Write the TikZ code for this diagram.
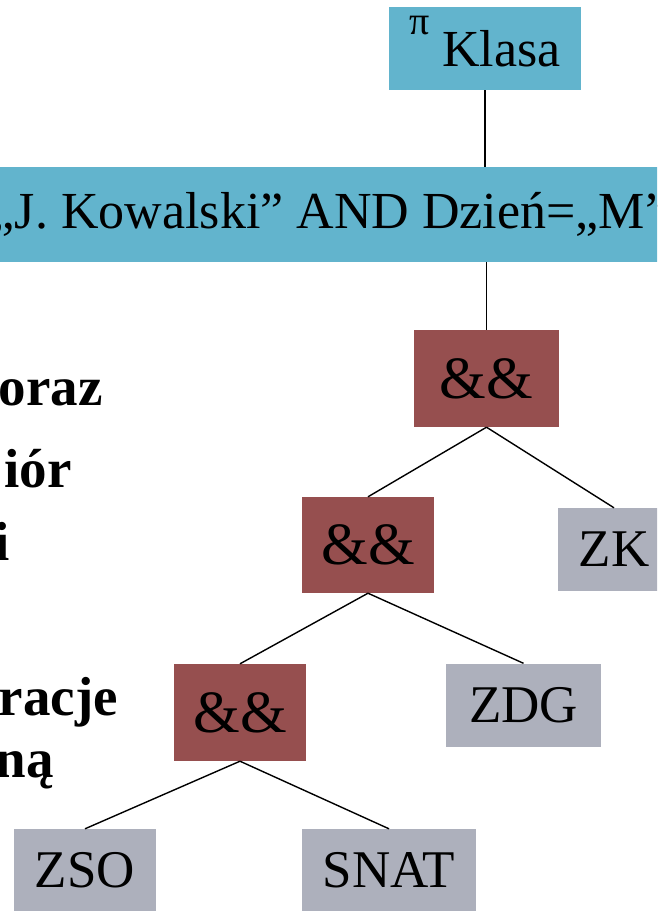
\documentclass[tikz,border=0pt]{standalone}
\usepackage{fontspec}
\setmainfont{Liberation Serif}
\usetikzlibrary{calc}

\definecolor{relblue}{RGB}{98,180,205}
\definecolor{opbrown}{RGB}{150,79,79}
\definecolor{tabgray}{RGB}{173,176,188}

\begin{document}
\begin{tikzpicture}[x=1pt,y=-1pt,
    relbox/.style={fill=relblue,inner sep=0pt,font=\fontsize{52}{60}\selectfont},
    opbox/.style={fill=opbrown,inner sep=0pt,minimum width=132pt,minimum height=96pt,font=\fontsize{60}{66}\selectfont},
    tabbox/.style={fill=tabgray,inner sep=0pt,minimum height=83pt,font=\fontsize{53}{60}\selectfont},
    frag/.style={anchor=base east,inner sep=0pt,font=\bfseries\fontsize{55}{60}\selectfont},
    every edge/.style={draw,line width=1.4pt}
  ]
  \useasboundingbox (0,0) rectangle (657,911);
  \clip (0,0) rectangle (657,911);

  % cut-off words of the slide text
  \foreach \x/\y/\w in {103/405/oraz, 72/487/iór, 10/560/i, 118/715/racje, 54/777/ną}
    {\node[frag] at (\x,\y) {\w};}

  % query tree
  \node[relbox,minimum width=192pt,minimum height=83pt] (klasa) at (485,48.5)
    {\smash{\raisebox{32pt}{\fontsize{40}{40}\selectfont π}}\ Klasa};
  \node[relbox,minimum width=720pt,minimum height=95pt] (sigma) at (330,214.5)
    {„J. Kowalski” AND Dzień=„M”};
  \node[opbox,minimum width=145pt,minimum height=97pt] (and1) at (486.5,378.5) {\&\&};
  \node[opbox] (and2) at (368,545) {\&\&};
  \node[opbox,minimum height=97pt] (and3) at (240,712.5) {\&\&};
  \node[tabbox,minimum width=112pt] (zk)   at (614,549.5) {ZK};
  \node[tabbox,minimum width=155pt] (zdg)  at (523.5,705) {ZDG};
  \node[tabbox,minimum width=142pt] (zso)  at (85,870.5) {ZSO};
  \node[tabbox,minimum width=174pt] (snat) at (389,870.5) {SNAT};

  \path (klasa.south) edge (klasa.south |- sigma.north)
        (sigma.south -| and1.north) edge (and1.north)
        (and1.south) edge (and2.north)
        (and1.south) edge (zk.north)
        (and2.south) edge (and3.north)
        (and2.south) edge (zdg.north)
        (and3.south) edge (zso.north)
        (and3.south) edge (snat.north);
\end{tikzpicture}
\end{document}
